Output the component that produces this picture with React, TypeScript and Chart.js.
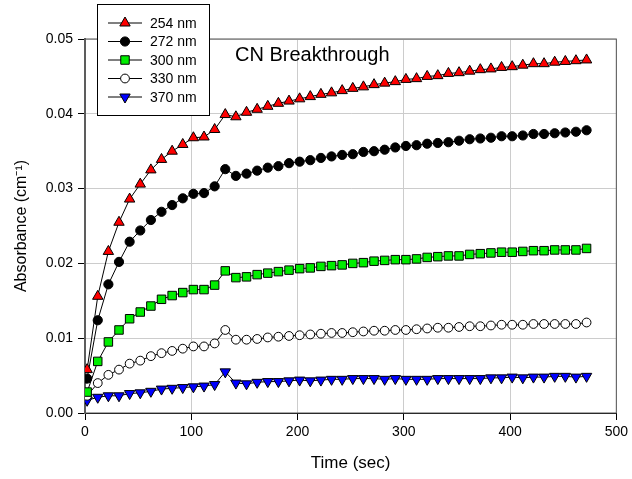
import React, { useEffect, useRef } from "react";
import { Chart, registerables } from "chart.js";
import { drawPoint } from "chart.js/helpers";

Chart.register(...registerables);

const times = [2, 12, 22, 32, 42, 52, 62, 72, 82, 92, 102, 112, 122, 132, 142, 152, 162, 172, 182, 192, 202, 212, 222, 232, 242, 252, 262, 272, 282, 292, 302, 312, 322, 332, 342, 352, 362, 372, 382, 392, 402, 412, 422, 432, 442, 452, 462, 472];

const nm254 = [0.0058, 0.0156, 0.0216, 0.0255, 0.0286, 0.0306, 0.0325, 0.0339, 0.035, 0.0359, 0.0368, 0.0369, 0.0379, 0.0399, 0.0396, 0.0402, 0.0406, 0.041, 0.0414, 0.0417, 0.042, 0.0423, 0.0426, 0.0428, 0.0431, 0.0434, 0.0436, 0.0439, 0.0441, 0.0443, 0.0446, 0.0447, 0.045, 0.0451, 0.0454, 0.0455, 0.0457, 0.0459, 0.046, 0.0462, 0.0463, 0.0465, 0.0467, 0.0467, 0.0469, 0.047, 0.0471, 0.0472];
const nm272 = [0.0046, 0.0124, 0.0172, 0.0202, 0.0229, 0.0244, 0.0258, 0.0269, 0.0278, 0.0287, 0.0293, 0.0294, 0.0303, 0.0326, 0.0317, 0.032, 0.0324, 0.0328, 0.033, 0.0334, 0.0336, 0.0338, 0.0341, 0.0343, 0.0345, 0.0346, 0.0349, 0.035, 0.0352, 0.0355, 0.0357, 0.0358, 0.036, 0.0361, 0.0362, 0.0364, 0.0366, 0.0367, 0.0368, 0.037, 0.037, 0.0371, 0.0373, 0.0373, 0.0374, 0.0375, 0.0376, 0.0378];
const nm300 = [0.0028, 0.0069, 0.0095, 0.0111, 0.0126, 0.0135, 0.0143, 0.0152, 0.0157, 0.0161, 0.0165, 0.0165, 0.0171, 0.019, 0.0181, 0.0182, 0.0185, 0.0187, 0.0189, 0.0191, 0.0193, 0.0194, 0.0196, 0.0197, 0.0198, 0.02, 0.0201, 0.0203, 0.0204, 0.0205, 0.0205, 0.0206, 0.0208, 0.0209, 0.021, 0.021, 0.0212, 0.0213, 0.0214, 0.0215, 0.0215, 0.0216, 0.0217, 0.0217, 0.0218, 0.0218, 0.0218, 0.022];
const nm330 = [0.0023, 0.004, 0.0051, 0.0058, 0.0066, 0.007, 0.0076, 0.008, 0.0083, 0.0086, 0.0089, 0.0089, 0.0093, 0.0111, 0.0098, 0.0098, 0.0099, 0.0101, 0.0102, 0.0103, 0.0104, 0.0105, 0.0106, 0.0107, 0.0107, 0.0108, 0.0109, 0.011, 0.011, 0.0111, 0.0111, 0.0112, 0.0113, 0.0114, 0.0114, 0.0115, 0.0116, 0.0116, 0.0117, 0.0118, 0.0118, 0.0118, 0.0119, 0.0119, 0.0119, 0.0119, 0.0119, 0.0121];
const nm370 = [0.0017, 0.0021, 0.0023, 0.0023, 0.0026, 0.0027, 0.0029, 0.0032, 0.0033, 0.0034, 0.0035, 0.0036, 0.0038, 0.0055, 0.004, 0.0039, 0.0041, 0.0042, 0.0042, 0.0043, 0.0044, 0.0043, 0.0044, 0.0045, 0.0045, 0.0046, 0.0046, 0.0046, 0.0045, 0.0046, 0.0045, 0.0045, 0.0045, 0.0046, 0.0046, 0.0046, 0.0046, 0.0046, 0.0047, 0.0047, 0.0048, 0.0047, 0.0048, 0.0048, 0.0049, 0.0049, 0.0048, 0.0049];

const seriesLabels = ["254 nm", "272 nm", "300 nm", "330 nm", "370 nm"];
const xTicks = [0, 100, 200, 300, 400, 500];
const yTicks = [0, 0.01, 0.02, 0.03, 0.04, 0.05];
const chartTitle = "CN Breakthrough";

const FONT = "'Liberation Sans', Arial, Helvetica, sans-serif";

const styles = [
  { fill: "#ff0000", pointStyle: "triangle", radius: 6, rotation: 0 },
  { fill: "#000000", pointStyle: "circle", radius: 4.6, rotation: 0 },
  { fill: "#00ee00", pointStyle: "rect", radius: 6, rotation: 0 },
  { fill: "#ffffff", pointStyle: "circle", radius: 4.4, rotation: 0 },
  { fill: "#0000ff", pointStyle: "triangle", radius: 6, rotation: 180 },
];

const seriesValues = [nm254, nm272, nm300, nm330, nm370];

const framePlugin = {
  id: "frame",
  beforeDatasetsDraw(chart: any) {
    const { ctx, chartArea } = chart;
    ctx.save();
    ctx.strokeStyle = "#555555";
    ctx.lineWidth = 1;
    ctx.strokeRect(chartArea.left, chartArea.top, chartArea.right - chartArea.left, chartArea.bottom - chartArea.top);
    ctx.restore();
  },
};

const overlayPlugin = {
  id: "overlay",
  afterDraw(chart: any) {
    const ctx = chart.ctx;
    ctx.save();
    // title inside the plot
    ctx.fillStyle = "#000";
    ctx.font = `20px ${FONT}`;
    ctx.textAlign = "left";
    ctx.textBaseline = "alphabetic";
    ctx.fillText(chartTitle, 235, 61);

    // legend box
    const bx = 97, by = 4, bw = 112, bh = 111;
    ctx.fillStyle = "#fff";
    ctx.fillRect(bx, by, bw, bh);
    ctx.strokeStyle = "#000";
    ctx.lineWidth = 1;
    ctx.strokeRect(bx + 0.5, by + 0.5, bw, bh);
    chart.data.datasets.forEach((ds: any, i: number) => {
      const y = 23 + i * 18.5;
      ctx.strokeStyle = "#000";
      ctx.lineWidth = 1;
      ctx.beginPath();
      ctx.moveTo(108, y);
      ctx.lineTo(142, y);
      ctx.stroke();
      ctx.fillStyle = ds.pointBackgroundColor;
      ctx.strokeStyle = "#000";
      drawPoint(ctx, { pointStyle: ds.pointStyle, radius: ds.pointRadius, rotation: ds.pointRotation, borderWidth: 1 } as any, 125, y);
      ctx.fillStyle = "#000";
      ctx.font = `14px ${FONT}`;
      ctx.textBaseline = "middle";
      ctx.fillText(ds.label, 150, y + 1);
    });
    ctx.restore();
  },
};

export default function App() {
  const ref = useRef<HTMLCanvasElement>(null);
  useEffect(() => {
    if (!ref.current) return;
    const datasets = seriesValues.map((vals, i) => ({
      label: seriesLabels[i],
      data: times.map((t, j) => ({ x: t, y: vals[j] })),
      borderColor: "#000",
      borderWidth: 1,
      pointBackgroundColor: styles[i].fill,
      pointBorderColor: "#000",
      pointBorderWidth: 1,
      pointStyle: styles[i].pointStyle,
      pointRadius: styles[i].radius,
      pointRotation: styles[i].rotation,
      tension: 0,
    }));
    const chart = new Chart(ref.current, {
      type: "line",
      data: { datasets },
      options: {
        animation: false,
        responsive: false,
        layout: { padding: { top: 39, right: 14, left: 0, bottom: 0 } },
        plugins: { legend: { display: false }, tooltip: { enabled: false }, title: { display: false } },
        scales: {
          x: {
            type: "linear",
            min: xTicks[0],
            max: xTicks[xTicks.length - 1],
            afterBuildTicks: (s: any) => { s.ticks = xTicks.map((v) => ({ value: v })); },
            afterFit: (s: any) => { s.height = 66; },
            ticks: { color: "#000", font: { family: FONT, size: 14 }, padding: 4, maxRotation: 0 },
            grid: { color: "#cccccc", lineWidth: 1, tickColor: "#000", tickLength: 7 },
            border: { color: "#000", width: 1 },
            title: { display: true, text: "Time (sec)", color: "#000", font: { family: FONT, size: 17 }, padding: { top: 0, bottom: 5 } },
          },
          y: {
            type: "linear",
            min: yTicks[0],
            max: yTicks[yTicks.length - 1],
            afterBuildTicks: (s: any) => { s.ticks = yTicks.map((v) => ({ value: v })); },
            afterFit: (s: any) => { s.width = 85; },
            ticks: { color: "#000", font: { family: FONT, size: 14 }, padding: 5, callback: (v: any) => Number(v).toFixed(2) },
            grid: { color: "#cccccc", lineWidth: 1, tickColor: "#000", tickLength: 7 },
            border: { color: "#666", width: 2 },
            title: { display: true, text: "Absorbance (cm⁻¹)", color: "#000", font: { family: FONT, size: 16 }, padding: { top: 12, bottom: 0 } },
          },
        },
      },
      plugins: [framePlugin, overlayPlugin],
    } as any);
    return () => chart.destroy();
  }, []);
  return (
    <div style={{ position: "absolute", left: 0, top: 0, width: 632, height: 479, background: "#fff" }}>
      <canvas ref={ref} width={632} height={479} style={{ display: "block" }} />
    </div>
  );
}
